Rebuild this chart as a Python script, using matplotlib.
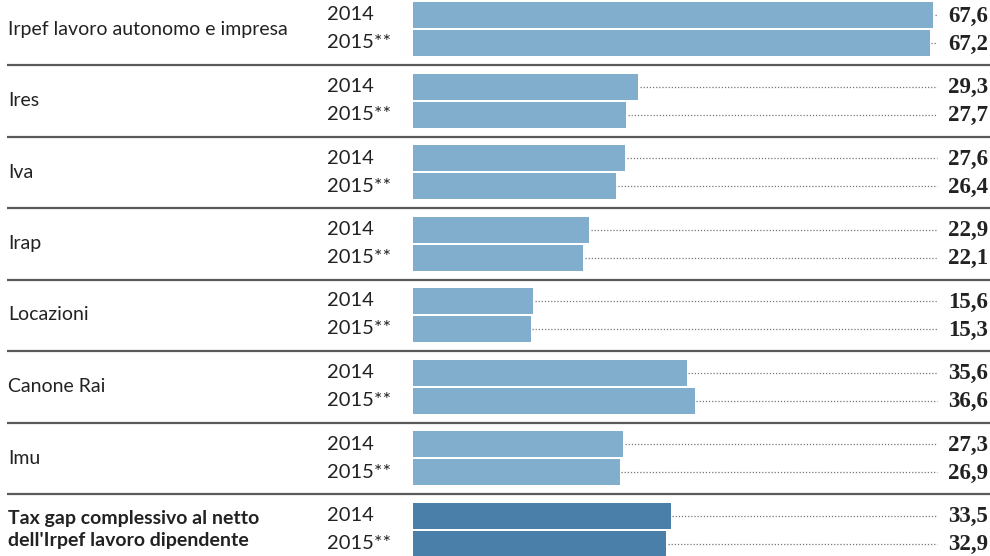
import matplotlib.pyplot as plt

categories = [
    "Irpef lavoro autonomo e impresa",
    "Ires",
    "Iva",
    "Irap",
    "Locazioni",
    "Canone Rai",
    "Imu",
    "Tax gap complessivo al netto\ndell'Irpef lavoro dipendente",
]
years = ["2014", "2015**"]
vals_2014 = [67.6, 29.3, 27.6, 22.9, 15.6, 35.6, 27.3, 33.5]
vals_2015 = [67.2, 27.7, 26.4, 22.1, 15.3, 36.6, 26.9, 32.9]

light = "#82aecd"
dark = "#4a7fa9"

W, H = 990, 556
s = 520 / 67.6          # pixels per unit
x0 = 413                # pixel where bars start

fig = plt.figure(figsize=(9.9, 5.56), dpi=100)
ax = fig.add_axes([0, 0, 1, 1])
ax.set_xlim(-x0 / s, (W - x0) / s)
ax.set_ylim(H, 0)
ax.axis("off")

def px(p):
    return (p - x0) / s

step = 71.5
for i, cat in enumerate(categories):
    base = 29 + step * i
    last = i == len(categories) - 1
    col = dark if last else light
    for j, v in enumerate([vals_2014[i], vals_2015[i]]):
        yc = base - 14 + 28 * j
        ax.barh(yc, v, height=26, left=0, color=col, edgecolor="none")
        ax.plot([v + 0.2, px(937)], [yc, yc], color="#777777", lw=0.9,
                ls=(0, (1, 1.5)))
        ax.text(px(988), yc + 1, f"{v:.1f}".replace(".", ","), ha="right", va="center",
                fontsize=16.5, fontweight="bold", family="Liberation Serif",
                color="#222222")
        ax.text(px(327), yc, years[j], ha="left", va="center", fontsize=14.5,
                family="Lato", color="#222222")
    ax.text(px(8), base, cat, ha="left", va="center", fontsize=14, family="Lato",
            color="#222222", fontweight="bold" if last else "normal",
            linespacing=1.3)
    if not last:
        ax.plot([px(7), px(990)], [base + 36, base + 36], color="#5a5a5a", lw=1.6,
                solid_capstyle="butt")

fig.savefig("out.png", dpi=100)
